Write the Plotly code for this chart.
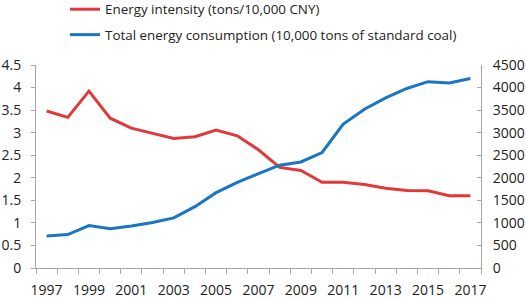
import plotly.graph_objects as go

years = [str(y) for y in range(1997, 2018)]
intensity = [3.48, 3.34, 3.92, 3.32, 3.10, 2.98, 2.87, 2.91, 3.06, 2.93, 2.62,
             2.23, 2.16, 1.90, 1.90, 1.85, 1.77, 1.72, 1.71, 1.60, 1.60]
consumption = [710, 740, 940, 870, 930, 1010, 1110, 1360, 1670, 1900, 2090,
               2280, 2350, 2560, 3190, 3520, 3770, 3980, 4130, 4100, 4200]
tick_text = [y if i % 2 == 0 else "" for i, y in enumerate(years)]

RED = "#E2383A"
BLUE = "#1A75C2"
AX = "#A6A6A6"
FONT = "Open Sans"

fig = go.Figure()
fig.add_trace(go.Scatter(x=years, y=intensity, mode="lines",
                         name="Energy intensity (tons/10,000 CNY)",
                         line=dict(color=RED, width=3), legendgroup="a"))
fig.add_trace(go.Scatter(x=years, y=consumption, mode="lines", yaxis="y2",
                         name="Total energy consumption (10,000 tons of standard coal)",
                         line=dict(color=BLUE, width=3), legendgroup="b"))

fig.update_layout(
    width=526, height=300,
    margin=dict(l=36, r=45, t=65, b=32, autoexpand=False),
    paper_bgcolor="white", plot_bgcolor="white",
    font=dict(family=FONT, size=14, color="#222222"),
    showlegend=True,
    legend=dict(x=29 / 445, y=1 + 71 / 203,
                xanchor="left", yanchor="top",
                traceorder="grouped", tracegroupgap=5,
                font=dict(family=FONT, size=13.4, color="#222222"),
                bgcolor="rgba(0,0,0,0)", borderwidth=0),
    xaxis=dict(type="category", range=[-0.5, 20.5], tickmode="array",
               tickvals=years, ticktext=tick_text, tickson="boundaries",
               ticks="outside", ticklen=5, tickcolor=AX, showline=True,
               linecolor=AX, linewidth=1, showgrid=False, zeroline=False,
               tickangle=0, ticklabelstandoff=9),
    yaxis=dict(range=[0, 4.5], dtick=0.5, tick0=0, ticks="outside", ticklen=4,
               tickcolor=AX, showline=True, linecolor=AX, linewidth=1,
               showgrid=False, zeroline=False, ticklabelstandoff=7),
    yaxis2=dict(range=[0, 4500], dtick=500, tick0=0, overlaying="y", side="right",
                ticks="inside", ticklen=4, tickcolor=AX, showline=True,
                linecolor=AX, linewidth=1, showgrid=False, zeroline=False,
                ticklabelstandoff=8),
)

fig.write_html("out.html", config={"displayModeBar": False},
               post_script="document.body.style.margin='0';")
